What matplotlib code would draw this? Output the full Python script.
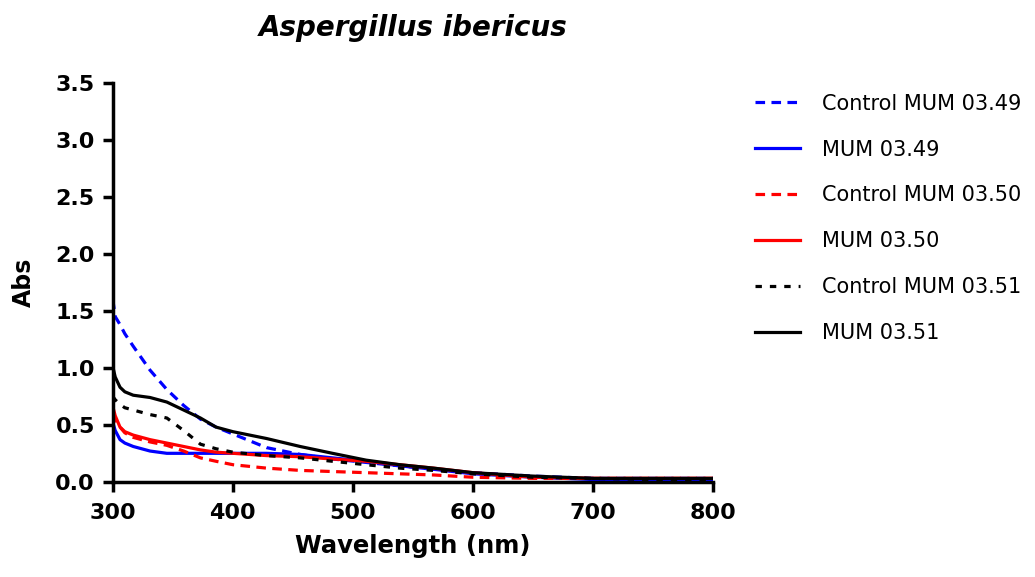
import matplotlib
matplotlib.use("Agg")
import matplotlib.pyplot as plt

wavelength = [300, 302, 306, 310, 317, 331, 345, 359, 373, 386, 400, 428, 456,
              483, 511, 539, 567, 600, 650, 700, 750, 800]

ctrl_349 = [1.60, 1.45, 1.38, 1.30, 1.19, 0.98, 0.81, 0.67, 0.55, 0.48, 0.42, 0.30,
            0.24, 0.20, 0.17, 0.14, 0.11, 0.08, 0.05, 0.03, 0.03, 0.03]
mum_349 = [0.52, 0.45, 0.37, 0.34, 0.31, 0.27, 0.25, 0.25, 0.25, 0.25, 0.25, 0.25,
           0.24, 0.21, 0.18, 0.14, 0.11, 0.07, 0.04, 0.02, 0.01, 0.02]
ctrl_350 = [0.60, 0.55, 0.48, 0.43, 0.39, 0.35, 0.32, 0.27, 0.21, 0.18, 0.15, 0.12,
            0.10, 0.09, 0.08, 0.07, 0.06, 0.04, 0.03, 0.03, 0.03, 0.03]
mum_350 = [0.66, 0.58, 0.48, 0.44, 0.41, 0.37, 0.34, 0.31, 0.28, 0.26, 0.25, 0.23,
           0.22, 0.20, 0.18, 0.15, 0.12, 0.08, 0.04, 0.03, 0.03, 0.03]
ctrl_351 = [0.75, 0.72, 0.68, 0.65, 0.63, 0.59, 0.56, 0.45, 0.33, 0.29, 0.26, 0.23,
            0.21, 0.18, 0.15, 0.12, 0.10, 0.07, 0.04, 0.03, 0.02, 0.02]
mum_351 = [1.01, 0.92, 0.83, 0.79, 0.76, 0.74, 0.70, 0.63, 0.56, 0.48, 0.44, 0.38,
           0.31, 0.25, 0.19, 0.15, 0.12, 0.08, 0.05, 0.03, 0.03, 0.03]

series = [
    ("Control MUM 03.49", ctrl_349, "#0000ff", (0, (3, 2))),
    ("MUM 03.49", mum_349, "#0000ff", "-"),
    ("Control MUM 03.50", ctrl_350, "#ff0000", (0, (3, 2))),
    ("MUM 03.50", mum_350, "#ff0000", "-"),
    ("Control MUM 03.51", ctrl_351, "#000000", (0, (2, 2.5))),
    ("MUM 03.51", mum_351, "#000000", "-"),
]

fig = plt.figure(figsize=(10.35, 5.77), dpi=100)
ax = fig.add_axes([0.109, 0.165, 0.58, 0.691])

for label, vals, col, ls in series:
    ax.plot(wavelength, vals, color=col, linestyle=ls, lw=2.3, label=label)

ax.set_xlim(300, 800)
ax.set_ylim(0, 3.5)
ax.set_xticks([300, 400, 500, 600, 700, 800])
ax.set_yticks([0.0, 0.5, 1.0, 1.5, 2.0, 2.5, 3.0, 3.5])
ax.set_yticklabels([f"{v:.1f}" for v in ax.get_yticks()])

for side in ["top", "right"]:
    ax.spines[side].set_visible(False)
for side in ["left", "bottom"]:
    ax.spines[side].set_linewidth(2.5)
ax.tick_params(width=2.5, length=7, direction="out", labelsize=16)
ax.tick_params(axis="x", pad=8)
ax.tick_params(axis="y", pad=6)
for t in ax.get_xticklabels() + ax.get_yticklabels():
    t.set_fontweight("bold")

ax.set_xlabel("Wavelength (nm)", fontsize=17.5, fontweight="bold", labelpad=8)
ax.set_ylabel("Abs", fontsize=17, fontweight="bold", labelpad=14)
ax.set_title("Aspergillus ibericus", fontsize=20, fontweight="bold", style="italic", pad=34)

ax.legend(loc="upper left", bbox_to_anchor=(0.711, 0.870), bbox_transform=fig.transFigure,
          frameon=False, fontsize=15, handlelength=2.16, labelspacing=1.24,
          handletextpad=1.05)

fig.savefig("out.png", dpi=100)
